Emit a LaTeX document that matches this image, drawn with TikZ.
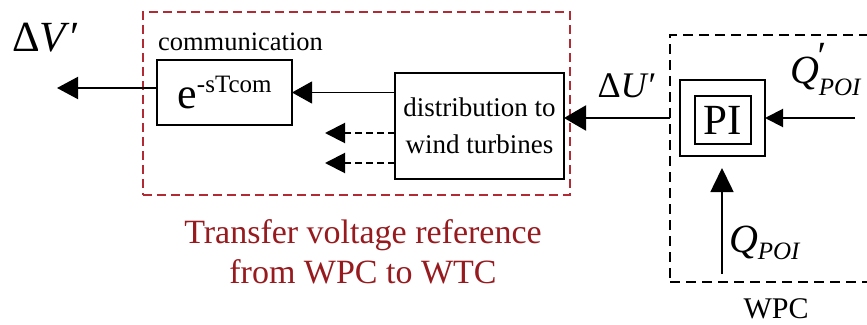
\documentclass[tikz,border=0pt]{standalone}
\usepackage{fontspec}
\setmainfont{Liberation Serif}
\usetikzlibrary{arrows.meta}
\definecolor{boxred}{HTML}{B22A33}
\definecolor{txtred}{HTML}{961A1E}
\begin{document}
\begin{tikzpicture}[x=1pt,y=-1pt,
  every node/.style={inner sep=0pt, outer sep=0pt},
  blk/.style={draw, line width=1.8pt},
  regionred/.style={draw=boxred, line width=1.8pt, dash pattern=on 9pt off 5pt},
  regionblack/.style={draw=black, line width=2pt, dash pattern=on 10pt off 6pt},
  arr/.style={line width=2pt, -{Triangle[length=21pt,width=22pt]}},
  bigarr/.style={line width=2pt, -{Triangle[length=22pt,width=25pt]}},
  smallarr/.style={line width=2pt, -{Triangle[length=18pt,width=18pt]}},
  vertarr/.style={line width=1.6pt, -{Triangle[length=24pt,width=23pt]}},
  thinarr/.style={line width=1pt, -{Triangle[length=20pt,width=22pt]}},
  dasharr/.style={line width=2pt, dash pattern=on 7pt off 4pt, -{Triangle[length=20pt,width=20pt]}}
]
\useasboundingbox (0,0) rectangle (867,324);

% regions
\node[regionred, minimum width=427pt, minimum height=183pt] (comm) at (356.5,103.5) {};
\node[regionblack, minimum width=240pt, minimum height=247pt] (wpc) at (790,158.5) {};

% blocks
\node[font=\fontsize{26.5}{30}\selectfont, anchor=base west] (commlbl) at (158,50) {communication};
\node[blk, minimum width=135pt, minimum height=65pt] (e) at (224.5,92.5)
  {{\fontsize{44}{44}\selectfont e}\raisebox{16pt}{\fontsize{25}{25}\selectfont -sTcom}};
\node[blk, minimum width=169pt, minimum height=106pt, align=center,
  font=\fontsize{27}{37}\selectfont] (dist) at (479.5,126) {distribution to\\wind turbines};
\node[blk, minimum width=85pt, minimum height=76pt] (PIo) at (722.5,118) {};
\node[blk, minimum width=56pt, minimum height=48pt, font=\fontsize{43}{43}\selectfont] (PIi) at (723,120) {PI};

% coordinates
\coordinate (vout) at (57,88);
\coordinate (d1) at (325,133);
\coordinate (d2) at (325,163);
\coordinate (qpin) at (855,118);
\coordinate (qin) at (722,274);

% connectors
\draw[arr] (e.west |- vout) -- (vout);
\draw[thinarr] (dist.west |- e.east) -- (e.east);
\draw[dasharr] (dist.west |- d1) -- (d1);
\draw[dasharr] (dist.west |- d2) -- (d2);
\draw[bigarr] (wpc.west |- PIo) -- (dist.east |- PIo);
\draw[smallarr] (qpin) -- (PIo.east);
\draw[vertarr, shorten >=12pt] (qin) -- (qin |- PIo.south);

% labels
\node[font=\fontsize{43}{43}\selectfont] (lv) at (46,38) {Δ\textit{V}′};
\node[font=\fontsize{36}{36}\selectfont] (lu) at (627,86) {Δ\textit{U}′};
\node[font=\fontsize{40}{40}\selectfont, anchor=base west] (lqp) at (790,83)
  {\textit{Q}\kern-3pt\rlap{\raisebox{14pt}{\textit{′}}}\kern3pt\raisebox{-12pt}{\fontsize{25}{25}\selectfont\textit{POI}}};
\node[font=\fontsize{40}{40}\selectfont, anchor=base west] (lq) at (729,252)
  {\textit{Q}\raisebox{-7pt}{\fontsize{25}{25}\selectfont\textit{POI}}};
\node[font=\fontsize{30}{30}\selectfont] (lwpc) at (776,309) {WPC};
\node[align=center, text=txtred, font=\fontsize{34}{40}\selectfont] (lred) at (363,251.5)
  {Transfer voltage reference\\from WPC to WTC};
\end{tikzpicture}
\end{document}
